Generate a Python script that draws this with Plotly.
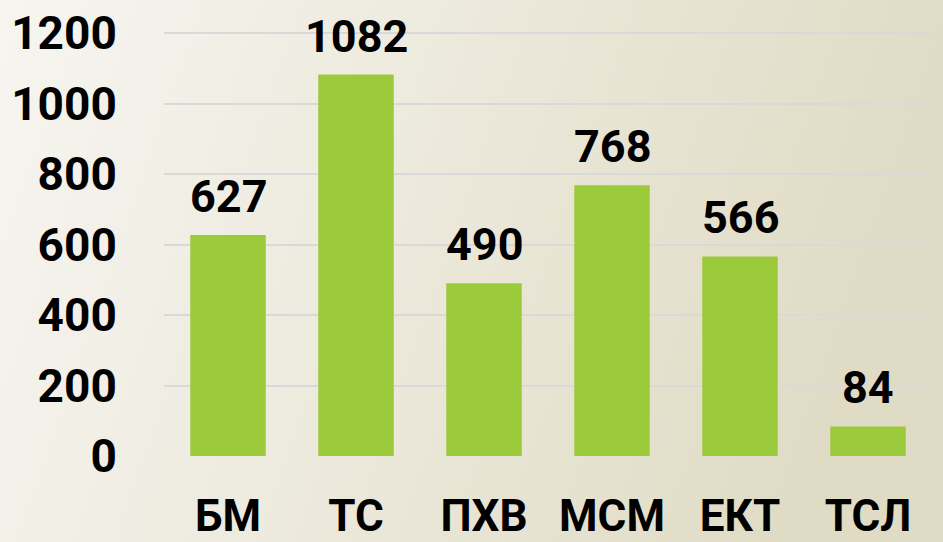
import base64
import plotly.graph_objects as go

categories = ['БМ', 'ТС', 'ПХВ', 'МСМ', 'ЕКТ', 'ТСЛ']
values = [627, 1082, 490, 768, 566, 84]
y_ticks = [0, 200, 400, 600, 800, 1000, 1200]

W, H = 943, 542
L, R, T, B = 164, 11, 29, 86
font_family = 'Roboto'
font_size = 45

# keep the 1200 line a few px below the plot top so it gets drawn
y_top = 1200 * (H - B - T) / (H - B - 33)

# soft left-to-right background gradient
svg = (
    '<svg xmlns="http://www.w3.org/2000/svg" width="943" height="542">'
    '<defs><linearGradient id="g" x1="0" y1="0" x2="1" y2="0.2">'
    '<stop offset="0" stop-color="#f6f5f0"/>'
    '<stop offset="0.5" stop-color="#ece9dc"/>'
    '<stop offset="1" stop-color="#dfdbc4"/>'
    '</linearGradient></defs>'
    '<rect width="943" height="542" fill="url(#g)"/></svg>'
)
bg_uri = 'data:image/svg+xml;base64,' + base64.b64encode(svg.encode()).decode()

fig = go.Figure()
fig.add_trace(go.Bar(
    x=categories, y=values,
    marker=dict(color='#9bcb3b', line=dict(width=0)),
    hoverinfo='x+y',
))

for c, v in zip(categories, values):
    fig.add_annotation(
        x=c, y=v, text=str(v), showarrow=False,
        yanchor='bottom', yshift=10,
        font=dict(family=font_family, size=font_size, color='#000000', weight='bold'),
    )

pw, ph = W - L - R, H - T - B
fig.add_layout_image(
    source=bg_uri, xref='paper', yref='paper',
    x=-L / pw, y=1 + T / ph, sizex=W / pw, sizey=H / ph,
    xanchor='left', yanchor='top', sizing='stretch', layer='below',
)

fig.update_layout(
    width=W, height=H,
    margin=dict(l=L, r=R, t=T, b=B, autoexpand=False),
    paper_bgcolor='#ece9dc',
    plot_bgcolor='rgba(0,0,0,0)',
    bargap=0.41,
    showlegend=False,
    font=dict(family=font_family, color='#000000'),
    xaxis=dict(
        tickfont=dict(size=44, weight='bold'),
        ticks='outside', ticklen=21, tickcolor='rgba(0,0,0,0)',
        showgrid=False, zeroline=False, showline=False, automargin=False,
    ),
    yaxis=dict(
        range=[0, y_top], tickvals=y_ticks,
        tickfont=dict(size=46, weight='bold'),
        ticks='outside', ticklen=37, tickcolor='rgba(0,0,0,0)',
        gridcolor='#d9d9d9', gridwidth=1.5,
        zeroline=False, showline=False, automargin=False,
    ),
)

fig.write_html('out.html', config={'displayModeBar': False},
               post_script="document.body.style.margin='0';document.body.style.overflow='hidden';")
